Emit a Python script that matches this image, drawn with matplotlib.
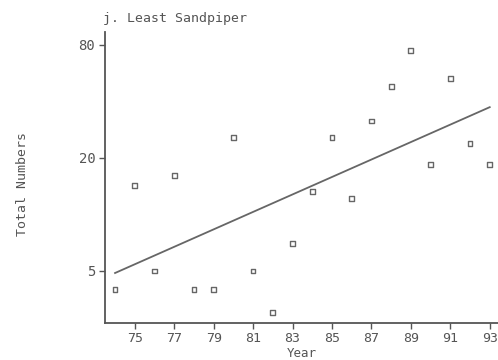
import numpy as np
import matplotlib
matplotlib.use("Agg")
import matplotlib.pyplot as plt

years = [74, 75, 76, 77, 78, 79, 80, 81, 82, 83, 84, 85, 86, 87, 88, 89, 90, 91, 92, 93]
counts = [4.0, 14.2, 5.0, 16.2, 4.0, 4.0, 25.6, 5.0, 3.0, 7.0, 13.2, 25.6, 12.2, 31.5, 48, 75, 18.4, 53, 23.8, 18.4]
xticks = [75, 77, 79, 81, 83, 85, 87, 89, 91, 93]
yticks = [5, 20, 80]
title = "j. Least Sandpiper"

col = "#555555"
plt.rcParams['font.family'] = ['DejaVu Sans Mono']

fig = plt.figure(figsize=(4.98, 3.6), dpi=100)
ax = fig.add_axes([105/498, 1-323/360, 1-105/498, (323-32)/360])

x = np.array(years, dtype=float)
y = np.log10(np.array(counts))
b, a = np.polyfit(x, y, 1)
xf = np.array([x.min(), x.max()])
ax.plot(xf, 10**(a + b*xf), color="#666666", lw=1.3)
ax.scatter(years, counts, marker='s', s=12, facecolors='none', edgecolors="#666666", linewidths=1.0, zorder=3)

ax.set_yscale('log')
ax.set_xlim(73.49, 93.42)
ax.set_ylim(2.64, 93.8)
ax.set_xticks(xticks)
ax.set_xticklabels([str(t) for t in xticks])
ax.set_yticks(yticks)
ax.set_yticklabels([str(t) for t in yticks])
ax.yaxis.set_minor_locator(matplotlib.ticker.NullLocator())
for s in ['top', 'right']:
    ax.spines[s].set_visible(False)
for s in ['left', 'bottom']:
    ax.spines[s].set_color("#555555")
    ax.spines[s].set_linewidth(1.3)
ax.tick_params(axis='both', direction='out', length=4, width=1, color=col, labelcolor=col, labelsize=10, pad=3)
ax.tick_params(axis='x', pad=2.5, labelsize=9.5)

fig.text(103/498, 1-22/360, title, fontsize=9.5, color=col, ha='left', va='baseline')
fig.text(302/498, 1-357/360, "Year", fontsize=9, color=col, ha='center', va='baseline')
fig.text(22/498, 1-184/360, "Total Numbers", fontsize=9.5, color=col, ha='center', va='center', rotation=90)

fig.savefig("out.png", dpi=100)
